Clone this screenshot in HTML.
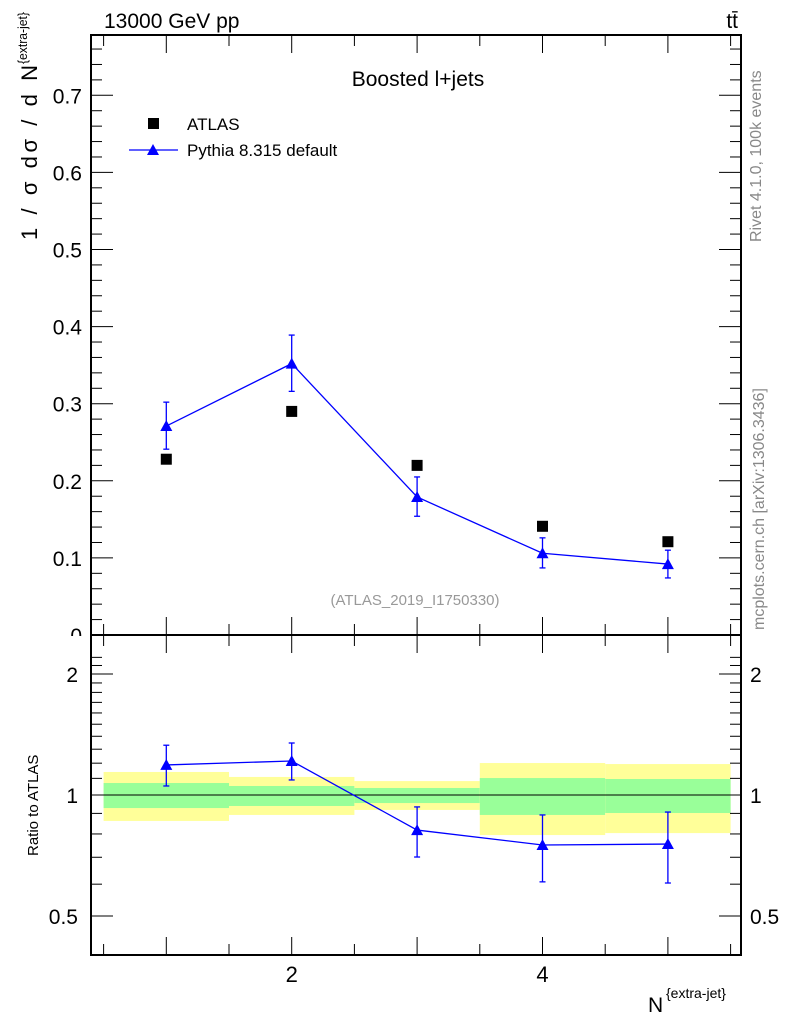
<!DOCTYPE html>
<html><head><meta charset="utf-8"><style>
body{margin:0;background:#fff;font-family:"Liberation Sans",sans-serif}
svg text{font-family:"Liberation Sans",sans-serif}
</style></head><body>
<svg id="c" width="786" height="1024" xmlns="http://www.w3.org/2000/svg">
</svg>
<script>
const categories=[1,2,3,4,5];
const atlasValues=[0.228,0.290,0.220,0.141,0.121];
const pythiaValues=[0.271,0.352,0.179,0.106,0.092];
const pythiaUp=[0.302,0.389,0.205,0.126,0.110];
const pythiaDown=[0.241,0.316,0.154,0.087,0.074];
const ratioValues=[1.188,1.215,0.818,0.751,0.755];
const ratioUp=[1.33,1.347,0.934,0.892,0.907];
const ratioDown=[1.053,1.09,0.701,0.608,0.604];
const yellowUp=[1.141,1.109,1.083,1.201,1.194];
const yellowDown=[0.862,0.892,0.918,0.795,0.804];
const greenUp=[1.071,1.053,1.041,1.102,1.096];
const greenDown=[0.928,0.939,0.955,0.892,0.902];
const mainTicks=[0,0.1,0.2,0.3,0.4,0.5,0.6,0.7];
const mainTickLabels=["0","0.1","0.2","0.3","0.4","0.5","0.6","0.7"];
const ratioTicks=[0.5,1,2];
const ratioTickLabels=["0.5","1","2"];
const xTicks=[2,4];
const xTickLabels=["2","4"];

const svg=document.getElementById('c');
const NS='http://www.w3.org/2000/svg';
function mk(tag,attrs,name,parent){const e=document.createElementNS(NS,tag);for(const k in attrs)e.setAttribute(k,attrs[k]);


(parent||svg).appendChild(e);return e;}
const L=91,R=741,T=35,MB=635,B=955;
const X=v=>103.6+(v-0.5)*125.4;
const Y=v=>635-v*771;
const RY=v=>795-Math.log2(v)*121;

mainTicks.forEach((v,i)=>{const t=mk('text',{x:82,y:Y(v)+8,'font-size':21,'text-anchor':'end'},'y-tick-label');t.textContent=mainTickLabels[i];});
mk('rect',{x:0,y:636,width:90,height:20,fill:'#fff'},'label-mask');

categories.forEach((c,i)=>{
 mk('rect',{x:X(c-0.5),y:RY(yellowUp[i]),width:125.4,height:RY(yellowDown[i])-RY(yellowUp[i]),fill:'#ffff99'},'syst-band-'+c);
 mk('rect',{x:X(c-0.5),y:RY(greenUp[i]),width:125.4,height:RY(greenDown[i])-RY(greenUp[i]),fill:'#99ff99'},'stat-band-'+c);
});
mk('line',{x1:L,x2:R,y1:RY(1),y2:RY(1),stroke:'#000','stroke-width':1},'ratio-unity-line');

mk('rect',{x:L,y:T,width:R-L,height:MB-T,fill:'none',stroke:'#000','stroke-width':2},'main-frame');
mk('rect',{x:L,y:MB,width:R-L,height:B-MB,fill:'none',stroke:'#000','stroke-width':2},'ratio-frame');

for(let v=0.5;v<=5.51;v+=0.5){
 const major=Math.abs(v-Math.round(v))<0.01;const len=major?18:11;
 [[MB,-1],[T,1],[B,-1],[MB,1]].forEach(([y0,d])=>mk('line',{x1:X(v),x2:X(v),y1:y0,y2:y0+d*len,stroke:'#000','stroke-width':1},'x-tick'));
}
xTicks.forEach((v,i)=>{const t=mk('text',{x:X(v),y:982,'font-size':22,'text-anchor':'middle'},'x-tick-label');t.textContent=xTickLabels[i];});
for(let v=0;v<=0.775;v+=0.02){const major=Math.abs(v*10-Math.round(v*10))<0.01;const len=major?22:11;
 mk('line',{x1:L,x2:L+len,y1:Y(v),y2:Y(v),stroke:'#000','stroke-width':1},'y-tick');
 mk('line',{x1:R,x2:R-len,y1:Y(v),y2:Y(v),stroke:'#000','stroke-width':1},'y-tick');}
for(let v=0.4;v<=2.3;v+=0.1){const major=ratioTicks.some(r=>Math.abs(r-v)<0.01);const len=major?22:11;const y=RY(v);if(y<MB||y>B)continue;
 mk('line',{x1:L,x2:L+len,y1:y,y2:y,stroke:'#000','stroke-width':1},'ratio-tick');
 mk('line',{x1:R,x2:R-len,y1:y,y2:y,stroke:'#000','stroke-width':1},'ratio-tick');}
ratioTicks.forEach((v,i)=>{let t=mk('text',{x:78,y:RY(v)+8,'font-size':21,'text-anchor':'end'},'ratio-tick-label');t.textContent=ratioTickLabels[i];
 t=mk('text',{x:750,y:RY(v)+8,'font-size':21},'ratio-tick-label-right');t.textContent=ratioTickLabels[i];});

mk('polyline',{points:categories.map((c,i)=>X(c)+','+Y(pythiaValues[i])).join(' '),fill:'none',stroke:'#0000ff','stroke-width':1.3},'pythia-line');
categories.forEach((c,i)=>{
 mk('line',{x1:X(c),x2:X(c),y1:Y(pythiaUp[i]),y2:Y(pythiaDown[i]),stroke:'#0000ff','stroke-width':1.3},'pythia-error');
 [pythiaUp[i],pythiaDown[i]].forEach(v=>mk('line',{x1:X(c)-3,x2:X(c)+3,y1:Y(v),y2:Y(v),stroke:'#0000ff','stroke-width':1.3},'pythia-cap'));
 const x=X(c),y=Y(pythiaValues[i]);
 mk('polygon',{points:`${x},${y-6} ${x-6},${y+5} ${x+6},${y+5}`,fill:'#0000ff'},'pythia-point');
 mk('rect',{x:X(c)-5.5,y:Y(atlasValues[i])-5.5,width:11,height:11,fill:'#000'},'atlas-point');
});
mk('polyline',{points:categories.map((c,i)=>X(c)+','+RY(ratioValues[i])).join(' '),fill:'none',stroke:'#0000ff','stroke-width':1.3},'ratio-line');
categories.forEach((c,i)=>{
 mk('line',{x1:X(c),x2:X(c),y1:RY(ratioUp[i]),y2:RY(ratioDown[i]),stroke:'#0000ff','stroke-width':1.3},'ratio-error');
 [ratioUp[i],ratioDown[i]].forEach(v=>mk('line',{x1:X(c)-3,x2:X(c)+3,y1:RY(v),y2:RY(v),stroke:'#0000ff','stroke-width':1.3},'ratio-cap'));
 const x=X(c),y=RY(ratioValues[i]);
 mk('polygon',{points:`${x},${y-6} ${x-6},${y+5} ${x+6},${y+5}`,fill:'#0000ff'},'ratio-point');
});
mk('rect',{x:148,y:118,width:11,height:11,fill:'#000'},'legend-atlas-marker');
let t=mk('text',{x:187,y:130,'font-size':17},'legend-atlas-label');t.textContent='ATLAS';
mk('line',{x1:129,x2:178,y1:150,y2:150,stroke:'#0000ff','stroke-width':1.3},'legend-pythia-line');
mk('polygon',{points:'153,144 147,155 159,155',fill:'#0000ff'},'legend-pythia-marker');
t=mk('text',{x:187,y:156,'font-size':17},'legend-pythia-label');t.textContent='Pythia 8.315 default';
t=mk('text',{x:418,y:86,'font-size':21,'text-anchor':'middle'},'plot-title');t.textContent='Boosted l+jets';
t=mk('text',{x:415,y:605,'font-size':15,fill:'#999','text-anchor':'middle'},'analysis-id');t.textContent='(ATLAS_2019_I1750330)';
t=mk('text',{x:104,y:28,'font-size':21},'header-left');t.textContent='13000 GeV pp';
t=mk('text',{x:738,y:28,'font-size':21,'text-anchor':'end'},'header-right');t.textContent='tt̄';
t=mk('text',{x:0,y:0,'font-size':16,fill:'#888',transform:'translate(761,242) rotate(-90)'},'rivet-label');t.textContent='Rivet 4.1.0,  100k events';
t=mk('text',{x:0,y:0,'font-size':16,fill:'#888',transform:'translate(764,630) rotate(-90)'},'mcplots-label');t.textContent='mcplots.cern.ch [arXiv:1306.3436]';
t=mk('text',{x:0,y:0,'font-size':22,textLength:175,lengthAdjust:'spacing',transform:'translate(37,240) rotate(-90)'},'y-axis-title');t.textContent='1 / σ dσ / d N';
t=mk('text',{x:0,y:0,'font-size':13,textLength:52,lengthAdjust:'spacingAndGlyphs',transform:'translate(27,64) rotate(-90)'},'y-axis-title-sup');t.textContent='{extra-jet}';
t=mk('text',{x:0,y:0,'font-size':15,transform:'translate(38,856) rotate(-90)'},'ratio-axis-title');t.textContent='Ratio to ATLAS';
t=mk('text',{x:648,y:1012,'font-size':21},'x-axis-title');t.textContent='N';
t=mk('text',{x:666,y:998,'font-size':14},'x-axis-title-sup');t.textContent='{extra-jet}';
</script>
</body></html>
